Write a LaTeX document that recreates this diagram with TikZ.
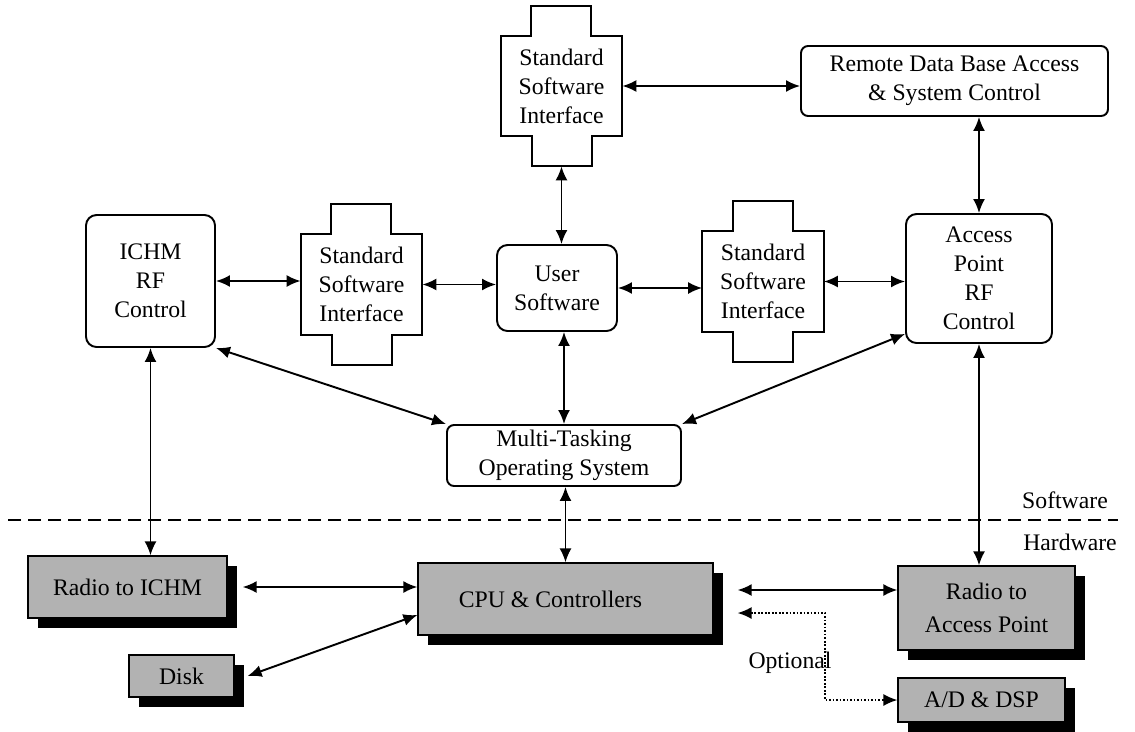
\documentclass[tikz,border=0pt]{standalone}
\usepackage{fontspec}
\setmainfont{Liberation Serif}
\usetikzlibrary{arrows.meta,shadows}

\begin{document}
\begin{tikzpicture}[x=0.2cm,y=0.2cm]
\tikzstyle{every node}+=[font=\fontsize{13.5}{16.5}\selectfont, inner sep=1pt]
\tikzstyle{swbox}=[draw, line width=1.1pt, rounded corners=6pt, align=center]
\tikzstyle{hwbox}=[draw, line width=0.7pt, fill=black!30, align=center, drop shadow={shadow xshift=0.2cm, shadow yshift=-0.2cm, fill=black, opacity=1}]
\tikzstyle{stdiface}=[align=center, minimum width=2.42cm, minimum height=2cm,
  append after command={\pgfextra{\draw[line width=1.1pt] (\tikzlastnode.north west) -- ++(0.61cm,0) -- ++(0,0.6cm) -- ++(1.2cm,0) -- ++(0,-0.6cm) -- (\tikzlastnode.north east) -- (\tikzlastnode.south east) -- ++(-0.61cm,0) -- ++(0,-0.6cm) -- ++(-1.2cm,0) -- ++(0,0.6cm) -- (\tikzlastnode.south west) -- cycle;}}]
\tikzstyle{link}=[line width=1.1pt, {Latex[length=0.28cm,width=0.24cm]}-{Latex[length=0.28cm,width=0.24cm]}]
\tikzstyle{optlink}=[line width=0.9pt, dash pattern=on 1pt off 1pt, {Latex[length=0.28cm,width=0.24cm]}-{Latex[length=0.28cm,width=0.24cm]}]
\useasboundingbox (0,0) rectangle (113.5,-73.1);
\node[swbox, minimum width=2.58cm, minimum height=2.64cm] (ichm) at (15.05,-28.1) {ICHM\\RF\\Control};
\node[stdiface] (sL) at (36.15,-28.45) {Standard\\Software\\Interface};
\node[swbox, minimum width=2.4cm, minimum height=1.72cm] (user) at (55.7,-28.8) {User\\Software};
\node[stdiface] (sR) at (76.3,-28.15) {Standard\\Software\\Interface};
\node[swbox, minimum width=2.92cm, minimum height=2.58cm] (ap) at (97.9,-27.85) {Access\\Point\\RF\\Control};
\node[stdiface] (sT) at (56.15,-8.6) {Standard\\Software\\Interface};
\node[swbox, rounded corners=4pt, minimum width=6.14cm, minimum height=1.4cm] (remote) at (95.45,-8.1) {Remote Data Base Access\\\& System Control};
\node[swbox, rounded corners=4pt, minimum width=4.68cm, minimum height=1.22cm] (multi) at (56.4,-45.55) {Multi-Tasking\\Operating System};
\node[hwbox, minimum width=3.98cm, minimum height=1.24cm] (rICHM) at (12.75,-58.7) {Radio to ICHM};
\node[hwbox, minimum width=2.1cm, minimum height=0.84cm] (disk) at (18.15,-67.6) {Disk};
\node[hwbox, minimum width=5.9cm, minimum height=1.44cm] (cpu) at (56.55,-59.9) {CPU \& Controllers\hspace*{0.6cm}};
\node[hwbox, minimum width=3.54cm, minimum height=1.68cm, font=\fontsize{13.5}{19}\selectfont] (rAP) at (98.65,-60.8) {Radio to\\Access Point};
\node[hwbox, minimum width=3.34cm, minimum height=0.88cm] (adc) at (98.15,-70.0) {A/D \& DSP};
\coordinate (swL) at (0.8,-52);
\coordinate (swR) at (111.8,-52);
\draw[line width=1.2pt, dash pattern=on 0.26cm off 0.14cm] (swL) -- (swR);
\node (swlab) at (106.5,-50.0) {Software};
\node (hwlab) at (107.0,-54.2) {Hardware};
\draw[link] (ichm.east) -- (ichm.east -| sL.west);
\draw[link] (sL.east) -- (sL.east -| user.west);
\draw[link] (user.east) -- (user.east -| sR.west);
\draw[link] (sR.east) -- (sR.east -| ap.west);
\draw[link] ([yshift=-0.6cm]sT.south) -- (sT.south |- user.north);
\draw[link] (sT.east) -- (sT.east -| remote.west);
\draw[link] (ap.north |- remote.south) -- (ap.north);
\draw[link] (ichm.south east) -- (multi.north west);
\draw[link] ([yshift=0.2cm]ap.south west) -- (multi.north east);
\draw[link] (user.south -| multi.north) -- (multi.north);
\draw[link] (cpu.north |- multi.south) -- (cpu.north);
\draw[link] (ichm.south) -- (ichm.south |- rICHM.north);
\draw[link] (ap.south) -- (ap.south |- rAP.north);
\draw[link] ([xshift=0.3cm]rICHM.east) -- (rICHM.east -| cpu.west);
\draw[link] ([xshift=0.26cm]disk.east) -- ([yshift=-0.32cm]cpu.west);
\coordinate (cpuR) at ([xshift=0.48cm]cpu.east);
\coordinate (cpuA) at ([yshift=0.18cm]cpuR);
\draw[link] (cpuA) -- (cpuA -| rAP.west);
\coordinate (optc) at (82.5,-61.3);
\draw[optlink] (cpuR |- optc) -- (optc) |- (adc.west);
\node (optlab) at (79.0,-66.3) {Optional};
\end{tikzpicture}
\end{document}
